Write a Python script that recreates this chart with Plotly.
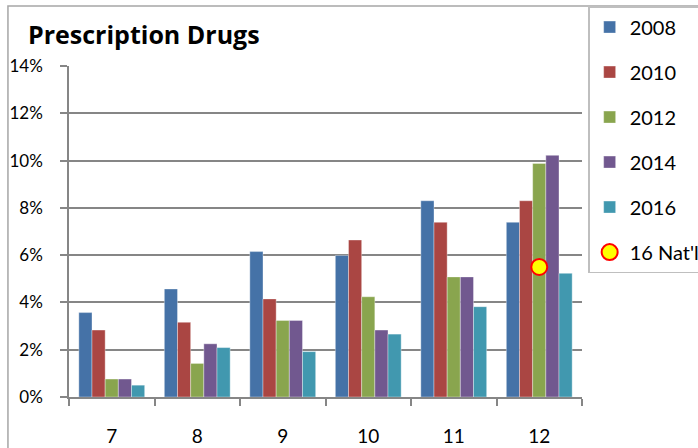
import plotly.graph_objects as go

grades = ["7", "8", "9", "10", "11", "12"]
years = ["2008", "2010", "2012", "2014", "2016"]
values = {
    "2008": [3.57, 4.57, 6.15, 5.99, 8.30, 7.39],
    "2010": [2.83, 3.16, 4.15, 6.64, 7.39, 8.30],
    "2012": [0.76, 1.42, 3.24, 4.24, 5.08, 9.88],
    "2014": [0.76, 2.25, 3.24, 2.83, 5.08, 10.22],
    "2016": [0.50, 2.09, 1.92, 2.66, 3.82, 5.23],
}
natl_label = "16 Nat'l"
natl_grade = ["12"]
natl_value = [5.50]

colors = {"2008": "#4572A7", "2010": "#AA4643", "2012": "#89A54E",
          "2014": "#71588F", "2016": "#4198AF"}

FONT = "Lato, Calibri, sans-serif"

fig = go.Figure()
for i, y in enumerate(years):
    fig.add_trace(go.Bar(
        x=grades, y=values[y], name=y, legendgroup=f"g{i}",
        marker=dict(color=colors[y], line=dict(color="rgba(255,255,255,0.6)", width=0.6)),
    ))
fig.add_trace(go.Scatter(
    x=natl_grade, y=natl_value, name=natl_label, mode="markers", legendgroup="g5",
    marker=dict(color="#FFFF00", size=16, line=dict(color="#FF0000", width=2)),
))

fig.update_layout(
    width=698, height=448,
    margin=dict(l=69, r=116, t=66, b=51, autoexpand=False),
    paper_bgcolor="white", plot_bgcolor="white",
    barmode="group", bargap=0.23, bargroupgap=0,
    font=dict(family=FONT, color="#000000", size=17),
    showlegend=True,
    legend=dict(
        x=1.012, y=1.181, xanchor="left", yanchor="top",
        bordercolor="#BFBFBF", borderwidth=1.5, bgcolor="white",
        font=dict(size=20, family=FONT), tracegroupgap=16,
        itemwidth=30, maxheight=420,
    ),
    xaxis=dict(
        type="category", tickson="boundaries", ticks="outside", ticklen=7,
        tickcolor="#868686", tickwidth=1.5, showline=True, linecolor="#868686",
        linewidth=1.5, showgrid=False, tickfont=dict(size=19),
        ticklabelstandoff=21,
    ),
    yaxis=dict(
        range=[0, 14], dtick=2, ticksuffix="%", ticks="outside", ticklen=7,
        tickcolor="#868686", tickwidth=1.5, showline=True, linecolor="#868686",
        linewidth=1.5, showgrid=True, gridcolor="#868686", gridwidth=1.5,
        zeroline=False, tickfont=dict(size=17), ticklabelstandoff=14,
    ),
    annotations=[dict(
        text="<b>Prescription Drugs</b>", xref="paper", yref="paper",
        x=-0.083, y=1.097, xanchor="left", yanchor="middle", showarrow=False,
        font=dict(size=25, family="Open Sans, sans-serif"),
    )],
    shapes=[dict(
        type="rect", xref="paper", yref="paper",
        x0=-0.119, x1=1.25, y0=-0.2, y1=1.181,
        line=dict(color="#A6A6A6", width=1.5), layer="below",
    )],
)

fig.write_html("out.html", config={"displayModeBar": False},
               post_script="document.body.style.margin='0';")
